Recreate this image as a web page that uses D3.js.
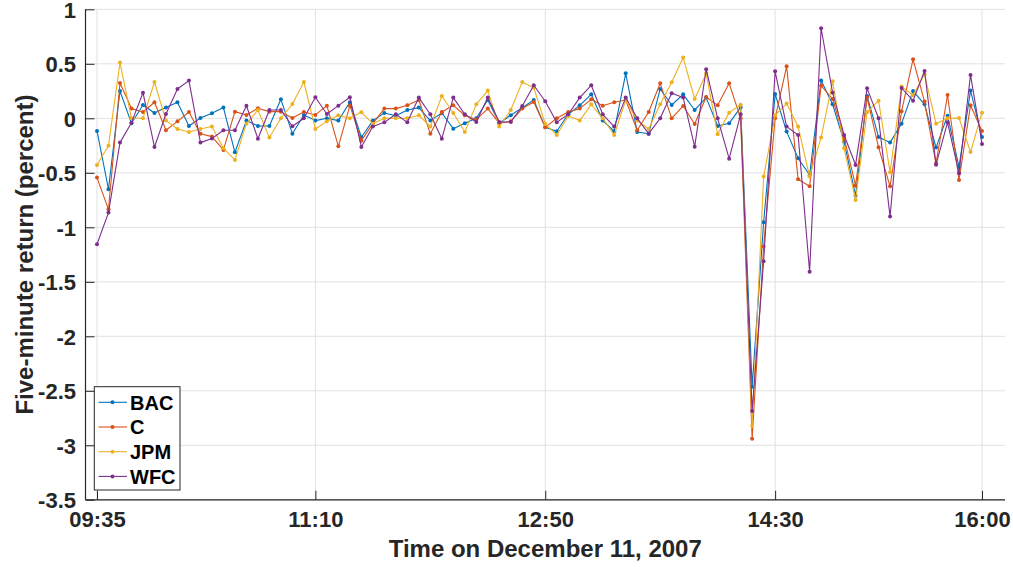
<!DOCTYPE html>
<html>
<head>
<meta charset="utf-8">
<script src="https://cdn.jsdelivr.net/npm/d3@7"></script>
<style>
  html, body { margin: 0; padding: 0; background: #fff; }
  svg { display: block; font-family: "Liberation Sans", Arial, Helvetica, sans-serif; font-weight: bold; }
</style>
</head>
<body>
<svg id="chart" width="1013" height="567"></svg>
<script>
// ---- Data ----
const startTime = "09:35";
const stepMinutes = 5;
const seriesNames = ["BAC", "C", "JPM", "WFC"];
const seriesColors = ["#0072BD", "#D95319", "#EDB120", "#7E2F8E"];

const BAC = [-0.116,-0.651,0.251,-0.046,0.122,0.049,0.098,0.147,-0.07,0.003,
  0.046,0.098,-0.312,-0.021,-0.07,-0.07,0.174,-0.141,0.031,-0.021,
  0,-0.021,0.147,-0.174,-0.021,0.049,0.024,0.076,0.098,-0.021,
  0.049,-0.095,-0.046,0,0.168,-0.046,0.028,0.098,0.168,-0.083,
  -0.119,0.037,0.119,0.22,-0.021,-0.119,0.413,-0.125,-0.141,0.269,
  0.122,0.22,0.076,0.19,-0.07,-0.046,0.1,-2.462,-0.954,0.223,
  -0.122,-0.367,-0.52,0.346,0.128,-0.214,-0.71,0.205,-0.171,-0.223,
  -0.049,0.251,0.128,-0.269,0.024,-0.446,0.254,-0.171];

const C = [-0.544,-0.835,0.324,0.089,0.058,0.147,-0.11,-0.028,0.058,-0.141,
  -0.168,-0.29,0.061,0.031,0.092,0.061,0.061,0.003,0.058,0.031,
  0.116,-0.257,0.116,-0.205,-0.049,0.089,0.089,0.119,0.168,-0.141,
  0.058,0.119,0.028,-0.012,0.089,-0.046,-0.028,0.089,0.15,-0.083,
  0,0.058,0.089,0.174,0.116,0.147,0.168,-0.11,0.058,0.321,
  0,0.113,-0.052,0.196,0.119,0.321,0,-2.939,-1.176,0,
  0.477,-0.56,-0.624,0.3,0.177,-0.177,-0.618,0.19,-0.266,-0.624,
  0.064,0.541,0.153,-0.413,0.214,-0.566,0.119,-0.116];

const JPM = [-0.428,-0.251,0.511,0,0,0.333,-0.021,-0.098,-0.125,-0.098,
  -0.076,-0.275,-0.382,-0.049,0.076,-0.177,0,0.131,0.333,-0.098,
  -0.028,0.028,0,0.055,-0.049,0,0,0,0.028,-0.076,
  0.205,0.049,-0.125,0.128,0.254,-0.076,0.076,0.333,0.281,-0.052,
  -0.153,0.021,-0.021,0.128,0,-0.153,0.168,-0.021,-0.098,0.128,
  0.33,0.557,0.177,0.41,-0.147,0.052,0.125,-2.823,-0.535,0.028,
  0.135,-0.076,-0.535,-0.177,0.339,-0.275,-0.749,0.058,0.162,-0.495,
  0.291,0.211,0.404,-0.049,0,0.003,-0.309,0.052];

const WFC = [-1.156,-0.865,-0.223,-0.04,0.235,-0.263,0.04,0.269,0.346,-0.223,
  -0.186,-0.11,-0.11,0.116,-0.187,0.076,0.076,-0.073,0,0.193,
  0.04,0.116,0.193,-0.263,-0.076,-0.037,0.037,-0.037,0.19,0.037,
  -0.187,0.19,0.037,-0.034,0.19,-0.034,-0.034,0.113,0.303,0.156,
  -0.037,0.037,0.19,0.303,0.037,-0.076,0.19,0,-0.141,0,
  0.229,0.19,-0.26,0.45,0,-0.37,0.037,-2.685,-1.312,0.431,
  -0.076,-0.153,-1.407,0.826,0.235,-0.153,-0.428,0.275,0,-0.902,
  0.278,0.162,0.434,-0.425,-0.037,-0.505,0.398,-0.235];

const xTickLabels = ["09:35", "11:10", "12:50", "14:30", "16:00"];
const yTicks = [-3.5, -3, -2.5, -2, -1.5, -1, -0.5, 0, 0.5, 1];
const xDomainLabels = ["09:30", "16:10"];
const xAxisTitle = "Time on December 11, 2007";
const yAxisTitle = "Five-minute return (percent)";

// ---- Helpers ----
const parseT = d3.timeParse("%H:%M");
const fmtT = d3.timeFormat("%H:%M");
const allSeries = [BAC, C, JPM, WFC];
const t0 = parseT(startTime);
const times = BAC.map((_, i) => d3.timeMinute.offset(t0, i * stepMinutes));

// ---- Layout ----
const L = 85.5, R = 1005, T = 9.3, B = 499.8;
const svg = d3.select("#chart");

const x = d3.scaleTime().domain(xDomainLabels.map(parseT)).range([L, R]);
const y = d3.scaleLinear().domain([-3.5, 1]).range([B, T]);

const axisColor = "#262626";
const gridColor = "#e1e1e1";

// grid
const grid = svg.append("g");
grid.selectAll("line.gy").data(yTicks).join("line")
  .attr("x1", L).attr("x2", R)
  .attr("y1", d => y(d)).attr("y2", d => y(d))
  .attr("stroke", gridColor).attr("stroke-width", 1);
grid.selectAll("line.gx").data(xTickLabels.map(parseT)).join("line")
  .attr("x1", d => x(d)).attr("x2", d => x(d))
  .attr("y1", T).attr("y2", B)
  .attr("stroke", gridColor).attr("stroke-width", 1);

// axes
const yAxis = d3.axisLeft(y).tickValues(yTicks).tickSize(-9).tickPadding(9.5)
  .tickFormat(d => String(d));
const gy = svg.append("g").attr("transform", `translate(${L},0)`).call(yAxis);
const xAxis = d3.axisBottom(x).tickValues(xTickLabels.map(parseT)).tickSize(-9).tickPadding(12)
  .tickFormat(fmtT);
const gx = svg.append("g").attr("transform", `translate(0,${B})`).call(xAxis);

[gx, gy].forEach(g => {
  g.select(".domain").attr("stroke", axisColor).attr("stroke-width", 1.2);
  g.selectAll(".tick line").attr("stroke", axisColor).attr("stroke-width", 1);
  g.selectAll(".tick text").attr("fill", axisColor)
    .style("font-size", "22px").style("font-weight", "bold")
    .style("font-family", '"Liberation Sans", Arial, sans-serif');
});
gy.selectAll(".tick text").attr("dy", "0.36em");
gy.select(".domain").attr("d", `M0,${B}V${T}`);
gx.select(".domain").attr("d", `M${L},0H${R}`);

// axis titles
svg.append("text")
  .attr("x", (L + R) / 2).attr("y", 557)
  .attr("text-anchor", "middle")
  .attr("fill", axisColor)
  .style("font-size", "24px")
  .text(xAxisTitle);
svg.append("text")
  .attr("transform", `translate(33,${(T + B) / 2}) rotate(-90)`)
  .attr("text-anchor", "middle")
  .attr("fill", axisColor)
  .style("font-size", "24px")
  .text(yAxisTitle);

// series
const line = d3.line().x((d, i) => x(times[i])).y(d => y(d));
allSeries.forEach((vals, k) => {
  const g = svg.append("g");
  g.append("path").datum(vals)
    .attr("d", line)
    .attr("fill", "none")
    .attr("stroke", seriesColors[k])
    .attr("stroke-width", 1.1)
    .attr("stroke-linejoin", "round");
  g.selectAll("circle").data(vals).join("circle")
    .attr("cx", (d, i) => x(times[i]))
    .attr("cy", d => y(d))
    .attr("r", 2)
    .attr("fill", seriesColors[k]);
});

// legend
const lg = svg.append("g");
const lx = 94.3, ly = 386.7, lw = 85.7, lh = 103.3;
lg.append("rect").attr("x", lx).attr("y", ly).attr("width", lw).attr("height", lh)
  .attr("fill", "#fff").attr("stroke", axisColor).attr("stroke-width", 1);
seriesNames.forEach((name, k) => {
  const ry = 402.3 + k * 24.7;
  lg.append("line").attr("x1", 98.5).attr("x2", 127).attr("y1", ry).attr("y2", ry)
    .attr("stroke", seriesColors[k]).attr("stroke-width", 1.1);
  lg.append("circle").attr("cx", 112.5).attr("cy", ry).attr("r", 2).attr("fill", seriesColors[k]);
  lg.append("text").attr("x", 130).attr("y", ry).attr("dy", "0.36em")
    .attr("fill", "#000").style("font-size", "20px").text(name);
});
</script>
</body>
</html>
